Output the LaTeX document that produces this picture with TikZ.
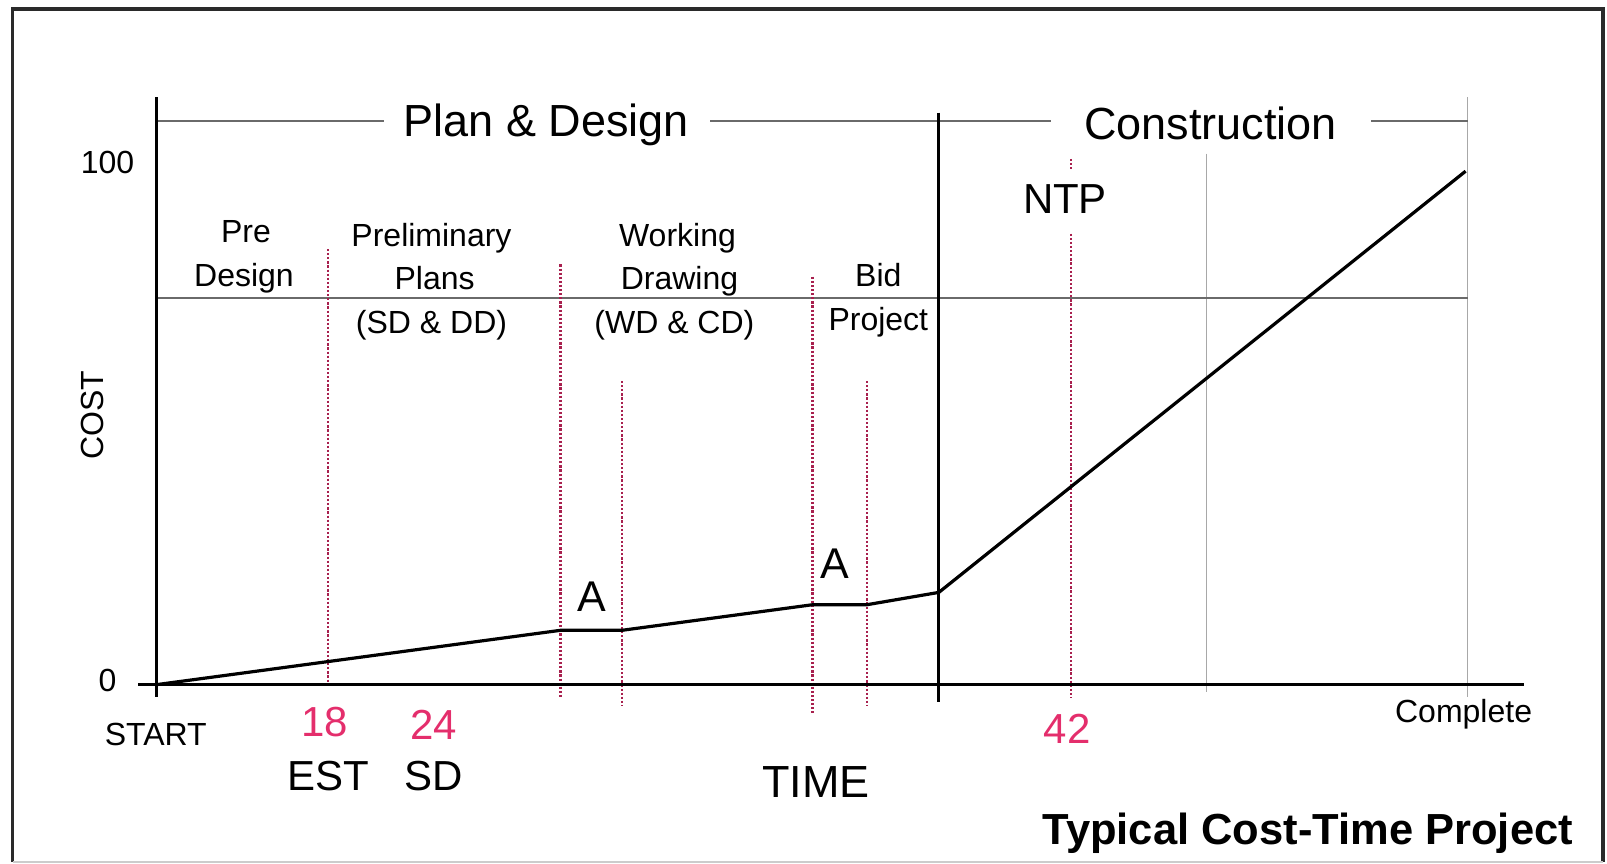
\documentclass[tikz,border=0pt]{standalone}
\usepackage{fontspec}
\setmainfont{Liberation Sans}
\definecolor{dotred}{HTML}{A8204E}
\definecolor{numpink}{HTML}{E42E6C}
\definecolor{rulegray}{HTML}{6A6A6A}
\definecolor{gridgray}{HTML}{A8A8A8}
\definecolor{framegray}{HTML}{2A2A2A}
\begin{document}
\begin{tikzpicture}[x=1pt,y=-1pt,
  smalltxt/.style={font=\fontsize{32}{36}\selectfont, text height=23pt, text depth=0pt, inner sep=0pt},
  bigtxt/.style={font=\fontsize{45}{50}\selectfont, text height=32pt, text depth=0pt, inner sep=0pt},
  numtxt/.style={bigtxt, font=\fontsize{42}{46}\selectfont, text=numpink},
  axisline/.style={line width=3pt, black},
  costline/.style={line width=3.2pt, black, line join=round},
  redline/.style={line width=2.6pt, dotred, dash pattern=on 2.2pt off 1.9pt},
  thingray/.style={line width=1.1pt, gridgray},
  rulegrayline/.style={line width=1.5pt, rulegray}]
\useasboundingbox (0,0) rectangle (1607,864);
% frame
\draw[line width=3.2pt, framegray] (12.5,862) -- (12.5,9) -- (1603,9) -- (1603,862);
\draw[line width=1.2pt, gray!40] (12.5,862) -- (1603,862);

% thin gray verticals
\draw[thingray] (1206.3,153.7) -- (1206.3,692);
\draw[thingray] (1467.7,97.4) -- (1467.7,697);

% horizontal rule lines
\draw[rulegrayline] (156.8,298.2) -- (1467.7,298.2);
\draw[rulegrayline] (156.8,121) -- (384,121);
\draw[rulegrayline] (710,121) -- (1050.5,121);
\draw[rulegrayline] (1371,121) -- (1467.7,121);

% red dotted lines
\draw[redline] (328,249) -- (328,684.6);
\draw[redline] (560.6,264.4) -- (560.6,698);
\draw[redline] (622,381) -- (622,706);
\draw[redline] (812.7,276.7) -- (812.7,713);
\draw[redline] (867,381) -- (867,706);
\draw[redline] (1071,158.9) -- (1071,169);
\draw[redline] (1071,233.7) -- (1071,698);

% axes
\draw[axisline] (156.8,97.4) -- (156.8,697);
\draw[axisline] (138,684.6) -- (1524,684.6);
\draw[axisline] (938.8,112.7) -- (938.8,702);

% cost curve
\coordinate (c0) at (156.8,684.6);
\coordinate (c1) at (560.6,630.3);
\coordinate (c2) at (622,630.3);
\coordinate (c3) at (812.7,604.7);
\coordinate (c4) at (867,604.7);
\coordinate (c5) at (938.8,592.4);
\coordinate (c6) at (1465.6,171.2);
\draw[costline] (c0) -- (c1) -- (c2) -- (c3) -- (c4) -- (c5) -- (c6);

% headings
\node[bigtxt] (pd) at (546.3,121) {Plan \& Design};
\node[bigtxt] (con) at (1210.4,124) {Construction};
\node[bigtxt, font=\fontsize{42}{46}\selectfont] (ntp) at (1065,197.8) {NTP};

% axis labels
\node[smalltxt] (l100) at (107.6,162) {100};
\node[smalltxt] (l0) at (107.6,679.5) {0};
\node[smalltxt, rotate=90] (cost) at (92,415) {COST};
\node[smalltxt] (start) at (155.8,733.8) {START};
\node[smalltxt] (complete) at (1463.6,711.3) {Complete};

% phase labels
\node[smalltxt] (pre1) at (246,230.6) {Pre};
\node[smalltxt] (pre2) at (244,274.7) {Design};
\node[smalltxt] (pp1) at (431.5,234.7) {Preliminary};
\node[smalltxt] (pp2) at (434.6,277.7) {Plans};
\node[smalltxt] (pp3) at (431.5,321.8) {(SD \& DD)};
\node[smalltxt] (wd1) at (677.5,234.7) {Working};
\node[smalltxt] (wd2) at (679.5,277.7) {Drawing};
\node[smalltxt] (wd3) at (674.4,321.8) {(WD \& CD)};
\node[smalltxt] (bid1) at (878.3,274.7) {Bid};
\node[smalltxt] (bid2) at (878.3,318.7) {Project};

% A markers
\node[bigtxt, font=\fontsize{43}{46}\selectfont] (a1) at (591.4,595.5) {A};
\node[bigtxt, font=\fontsize{43}{46}\selectfont] (a2) at (835.3,562.7) {A};

% bottom numbers and labels
\node[numtxt] (n18) at (325,720.5) {18};
\node[numtxt] (n24) at (433.5,723.6) {24};
\node[numtxt] (n42) at (1067,727.7) {42};
\node[bigtxt, font=\fontsize{42}{46}\selectfont] (est) at (328,774.8) {EST};
\node[bigtxt, font=\fontsize{42}{46}\selectfont] (sd) at (433.5,774.8) {SD};
\node[bigtxt] (time) at (815.8,781) {TIME};
\node[bigtxt, font=\bfseries\fontsize{43.5}{46}\selectfont] (title) at (1307.8,828) {Typical Cost-Time Project};
\end{tikzpicture}
\end{document}
